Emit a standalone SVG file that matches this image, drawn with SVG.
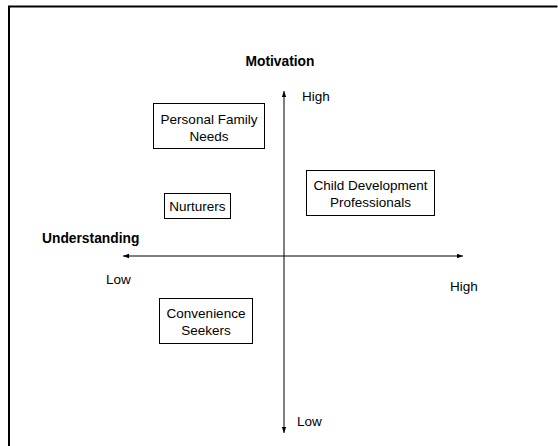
<svg xmlns="http://www.w3.org/2000/svg" width="558" height="446" viewBox="0 0 558 446">
  <style>
    text { font-family: "Liberation Sans", Arial, sans-serif; font-size: 13.5px; fill: #000; }
    .title { font-weight: bold; font-size: 13.8px; }
    .mid { text-anchor: middle; }
    .box { fill: #fff; stroke: #000; stroke-width: 1; }
    .axis { stroke: #000; stroke-width: 1; fill: none; marker-end: url(#tip); }
  </style>
  <defs>
    <marker id="tip" viewBox="0 0 6 6" refX="6" refY="3" markerWidth="6" markerHeight="6" markerUnits="userSpaceOnUse" orient="auto">
      <path d="M0,0.8 L6,3 L0,5.2 Z" fill="#000"/>
    </marker>
  </defs>

  <rect width="558" height="446" fill="#fff"/>
  <!-- page frame (top and left edges) -->
  <path d="M9,446 V6.5 H557.5" fill="none" stroke="#000" stroke-width="2"/>

  <!-- axes -->
  <g id="connectors">
    <line class="axis" x1="284" y1="256" x2="284" y2="91"/>
    <line class="axis" x1="284" y1="256" x2="284" y2="433"/>
    <line class="axis" x1="284" y1="256" x2="123" y2="256"/>
    <line class="axis" x1="284" y1="256" x2="463" y2="256"/>
  </g>

  <!-- axis labels -->
  <g id="labels">
    <text class="title mid" x="280" y="66">Motivation</text>
    <text class="title" x="42" y="243">Understanding</text>
    <text x="302" y="101">High</text>
    <text x="297" y="426">Low</text>
    <text x="106" y="284">Low</text>
    <text x="450" y="291">High</text>
  </g>

  <g id="personal-family-needs">
    <rect class="box" x="153.5" y="103.5" width="111" height="45"/>
    <text class="mid" x="209" y="124">Personal Family</text>
    <text class="mid" x="209" y="141">Needs</text>
  </g>

  <g id="nurturers">
    <rect class="box" x="164.5" y="193.5" width="66" height="25"/>
    <text class="mid" x="197.5" y="211">Nurturers</text>
  </g>

  <g id="child-development-professionals">
    <rect class="box" x="306.5" y="170.5" width="128" height="45"/>
    <text class="mid" x="370.5" y="190">Child Development</text>
    <text class="mid" x="370.5" y="207">Professionals</text>
  </g>

  <g id="convenience-seekers">
    <rect class="box" x="159.5" y="298.5" width="93" height="45"/>
    <text class="mid" x="206" y="318">Convenience</text>
    <text class="mid" x="206" y="335">Seekers</text>
  </g>
</svg>
